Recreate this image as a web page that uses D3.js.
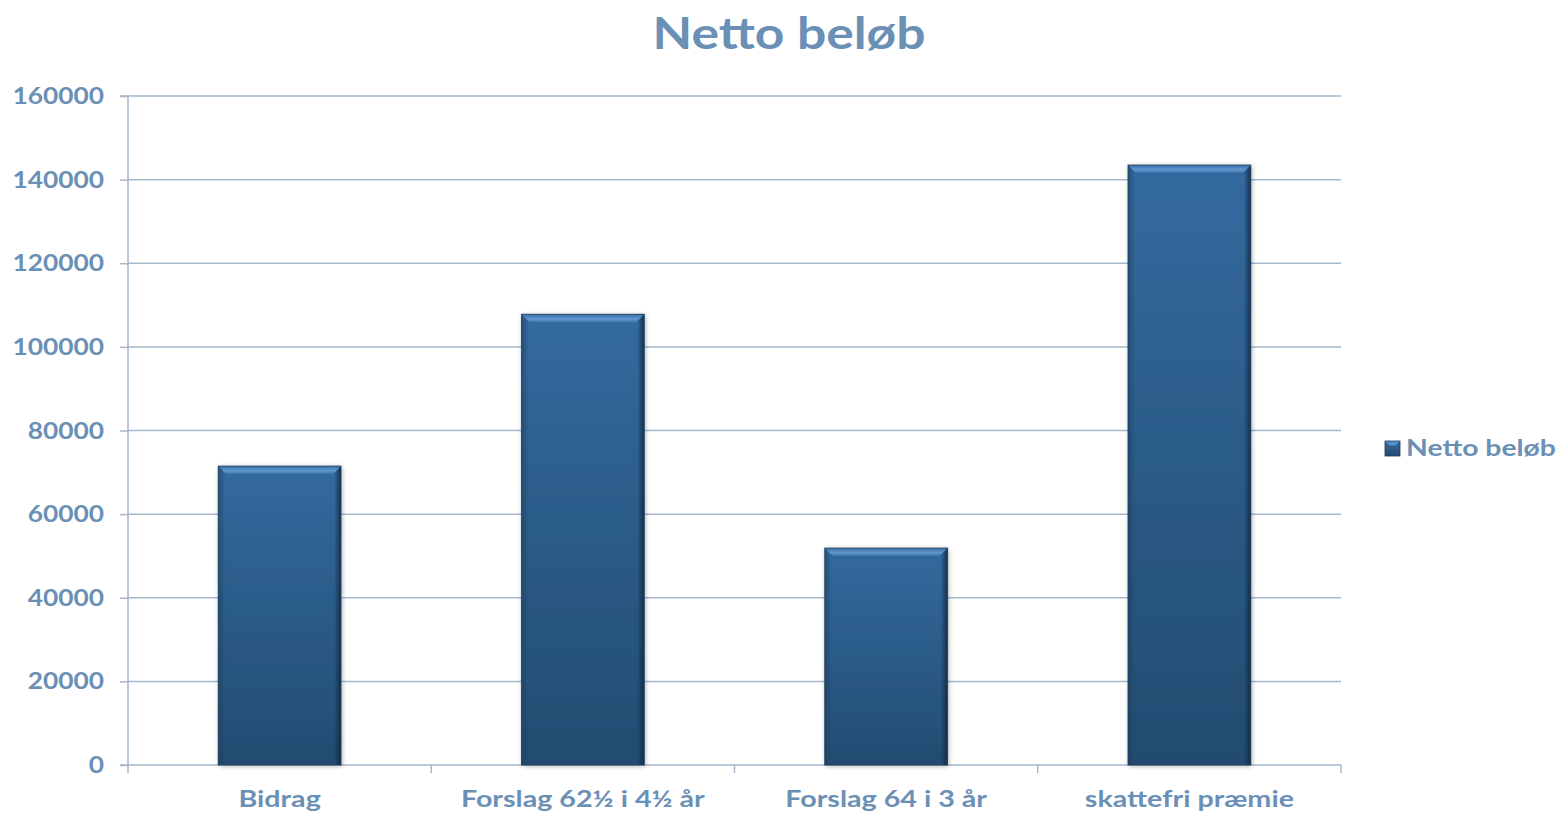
<!DOCTYPE html>
<html><head><meta charset="utf-8">
<script src="https://d3js.org/d3.v7.min.js"></script>
<style>body{margin:0;background:#fff;} svg{display:block;}</style>
</head><body>
<svg id="c" width="1557" height="815"></svg>
<script>
const categories = ["Bidrag", "Forslag 62½ i 4½ år", "Forslag 64 i 3 år", "skattefri præmie"];
const values = [71500, 107800, 51900, 143500];
const yTicks = [0, 20000, 40000, 60000, 80000, 100000, 120000, 140000, 160000];
const seriesName = "Netto beløb";
const title = "Netto beløb";

const W = 1557, H = 815;
const m = {left:128, right:1341, top:96, bottom:765};
const txt = "#6a90b6", grid = "#a5b8cd";
const font = "Lato, 'Open Sans', sans-serif";
const svg = d3.select("#c");

const defs = svg.append("defs");
const g1 = defs.append("linearGradient").attr("id","bg").attr("x1",0).attr("y1",0).attr("x2",0).attr("y2",1);
g1.append("stop").attr("offset","0%").attr("stop-color","#336a9f");
g1.append("stop").attr("offset","100%").attr("stop-color","#234c70");
const g2 = defs.append("linearGradient").attr("id","bv").attr("x1",0).attr("y1",0).attr("x2",0).attr("y2",1);
g2.append("stop").attr("offset","0%").attr("stop-color","#3a6fa5");
g2.append("stop").attr("offset","60%").attr("stop-color","#5f97cf");
g2.append("stop").attr("offset","100%").attr("stop-color","#3d72a8");
const gl = defs.append("linearGradient").attr("id","edL").attr("x1",0).attr("y1",0).attr("x2",1).attr("y2",0);
gl.append("stop").attr("offset","0%").attr("stop-color","#1c3d5c").attr("stop-opacity",0.6);
gl.append("stop").attr("offset","100%").attr("stop-color","#1c3d5c").attr("stop-opacity",0);
const gr = defs.append("linearGradient").attr("id","edR").attr("x1",1).attr("y1",0).attr("x2",0).attr("y2",0);
gr.append("stop").attr("offset","0%").attr("stop-color","#0f2740").attr("stop-opacity",0.85);
gr.append("stop").attr("offset","100%").attr("stop-color","#0f2740").attr("stop-opacity",0);
const f = defs.append("filter").attr("id","sh").attr("x","-10%").attr("y","-10%").attr("width","130%").attr("height","130%");
f.append("feGaussianBlur").attr("in","SourceAlpha").attr("stdDeviation",2.5);
f.append("feOffset").attr("dx",1).attr("dy",1).attr("result","b");
f.append("feComponentTransfer").append("feFuncA").attr("type","linear").attr("slope",0.35);
const fm = f.append("feMerge"); fm.append("feMergeNode"); fm.append("feMergeNode").attr("in","SourceGraphic");

const x = d3.scaleBand().domain(categories).range([m.left, m.right]).paddingInner(0.595).paddingOuter(0.2975);
const y = d3.scaleLinear().domain([0,160000]).range([m.bottom, m.top]);

function label(sel, px, py, size, sx, anchor, s) {
  return sel.append("text").attr("transform", `translate(${px},${py}) scale(${sx},1)`)
    .attr("text-anchor", anchor).attr("font-family", font).attr("font-weight", 700)
    .attr("font-size", size).attr("fill", txt).text(s);
}

// title
label(svg, 789, 49, 43, 1.2, "middle", title);

// gridlines
svg.append("g").selectAll("line").data(yTicks.filter(d=>d>0)).join("line")
  .attr("x1", m.left).attr("x2", m.right).attr("y1", d=>y(d)).attr("y2", d=>y(d))
  .attr("stroke", grid).attr("stroke-width", 1.5);

// y axis
const ya = svg.append("g").attr("transform",`translate(${m.left},0)`)
  .call(d3.axisLeft(y).tickValues(yTicks).tickSize(8).tickFormat(d3.format("d")));
ya.select(".domain").attr("stroke", grid).attr("stroke-width",1.5).attr("d",`M-8,${m.top}H0V${m.bottom}H-8`);
ya.selectAll(".tick line").attr("stroke", grid).attr("stroke-width",1.5);
ya.selectAll(".tick text").remove();
ya.selectAll(".tick").each(function(d){
  label(d3.select(this), -24, 7.5, 23.5, 1.12, "end", d3.format("d")(d));
});

// x axis
const bounds = d3.range(categories.length+1).map(i => m.left + i*(m.right-m.left)/categories.length);
const xa = svg.append("g");
xa.append("line").attr("x1", m.left).attr("x2", m.right).attr("y1", m.bottom).attr("y2", m.bottom).attr("stroke", grid).attr("stroke-width",1.5);
xa.selectAll("line.t").data(bounds).join("line").attr("class","t")
  .attr("x1", d=>d).attr("x2", d=>d).attr("y1", m.bottom).attr("y2", m.bottom+8).attr("stroke", grid).attr("stroke-width",1.5);
categories.forEach(c => label(xa, x(c)+x.bandwidth()/2, 807, 23.5, 1.22, "middle", c));

// bars
const bars = svg.append("g").selectAll("g").data(categories.map((c,i)=>({c, v: values[i]}))).join("g");
bars.append("rect").attr("x", d=>x(d.c)).attr("y", d=>y(d.v)).attr("width", x.bandwidth()).attr("height", d=>y(0)-y(d.v))
  .attr("fill","url(#bg)").attr("filter","url(#sh)");
bars.append("rect").attr("x", d=>x(d.c)).attr("y", d=>y(d.v)).attr("width", 7).attr("height", d=>y(0)-y(d.v)).attr("fill","url(#edL)");
bars.append("rect").attr("x", d=>x(d.c)+x.bandwidth()-7).attr("y", d=>y(d.v)).attr("width", 7).attr("height", d=>y(0)-y(d.v)).attr("fill","url(#edR)");
bars.append("path").attr("d", d=>{
  const x0 = x(d.c), x1 = x0 + x.bandwidth(), y0 = y(d.v), b = 8;
  return `M${x0},${y0}H${x1}L${x1-b},${y0+b}H${x0+b}Z`;
}).attr("fill","url(#bv)");
bars.append("rect").attr("x", d=>x(d.c)).attr("y", d=>y(d.v)).attr("width", x.bandwidth()).attr("height", d=>y(0)-y(d.v))
  .attr("fill","none").attr("stroke","#1b3a57").attr("stroke-width",1).attr("stroke-opacity",0.7);

// legend
const lg = svg.append("g").attr("transform","translate(1385,441)");
lg.append("rect").attr("width",15).attr("height",15).attr("fill","url(#bg)").attr("stroke","#1b3a57").attr("stroke-width",0.8);
lg.append("path").attr("d","M0,0H15L10,5H5Z").attr("fill","url(#bv)");
label(lg, 21, 15, 22.5, 1.26, "start", seriesName);
</script>
</body></html>
